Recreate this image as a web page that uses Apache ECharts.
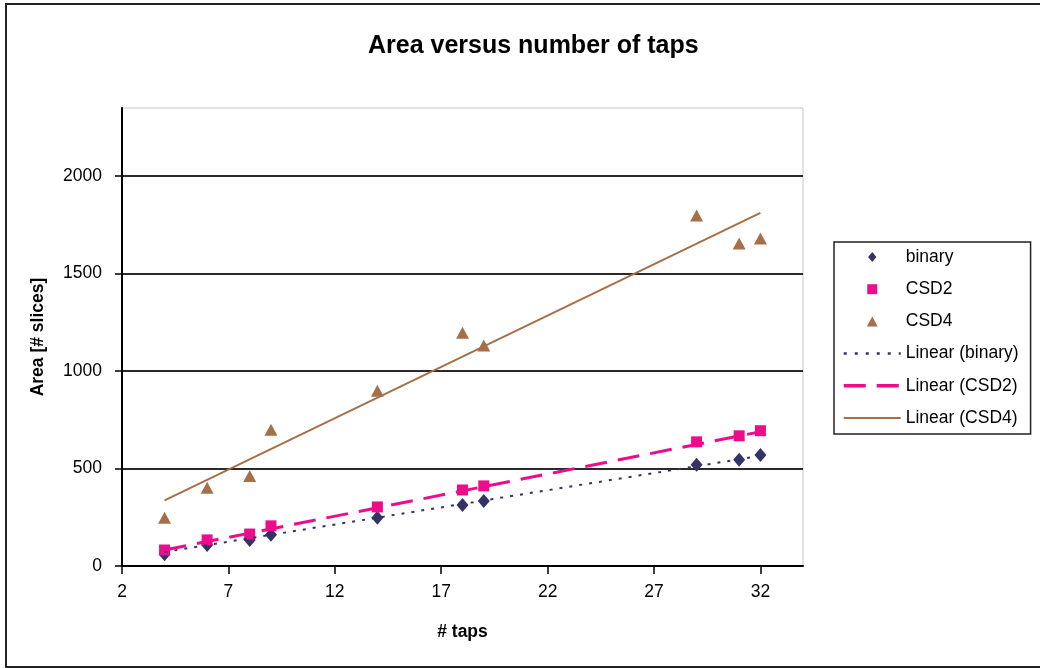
<!DOCTYPE html>
<html>
<head>
<meta charset="utf-8">
<title>Area versus number of taps</title>
<script src="https://cdn.jsdelivr.net/npm/echarts@6/dist/echarts.min.js"></script>
<style>
  html, body { margin: 0; padding: 0; background: #fff; }
  #chart { width: 1040px; height: 668px; }
</style>
</head>
<body>
<div id="chart"></div>
<script>
// Number of filter taps for each measured design
const taps = [4, 6, 8, 9, 14, 18, 19, 29, 31, 32];

// Area in slices per coefficient encoding
const binary = [60, 108, 134, 160, 247, 313, 334, 519, 545, 570];
const csd2 = [82, 134, 164, 206, 303, 390, 411, 637, 668, 694];
const csd4 = [247, 401, 462, 699, 899, 1197, 1131, 1799, 1655, 1680];

// Linear trend lines: [taps, area] at both ends
const trendBinary = [[4, 72], [32, 565]];
const trendCsd2 = [[4, 82], [32, 689]];
const trendCsd4 = [[4, 337], [32, 1812]];

// Axis tick labels
const xTicks = [2, 7, 12, 17, 22, 27, 32];
const yTicks = [0, 500, 1000, 1500, 2000];

const FONT = '"Liberation Sans", Arial, Helvetica, sans-serif';
const NAVY = '#333366';
const PINK = '#EC0C8C';
const BROWN = '#A66F48';

// Marker outlines as paths so the legend keeps their proportions
const DIAMOND = 'path://M5,0L10,6L5,12L0,6Z';
const SQUARE = 'path://M0,0L10,0L10,10L0,10Z';
const TRIANGLE = 'path://M6,0L12,11L0,11Z';

const pairs = ys => taps.map((t, i) => [t, ys[i]]);

const chart = echarts.init(document.getElementById('chart'), null, { renderer: 'canvas' });

// Line entries in the legend show only the stroke, no marker
const hiddenMarker = { opacity: 0 };

chart.setOption({
  backgroundColor: '#ffffff',
  animation: false,
  textStyle: { fontFamily: FONT },
  title: {
    text: 'Area versus number of taps',
    left: 363,
    top: 29,
    textStyle: { fontFamily: FONT, fontSize: 25, fontWeight: 'bold', color: '#000' }
  },
  graphic: [{
    type: 'rect',
    shape: { x: 6, y: 4, width: 1050, height: 663 },
    style: { fill: 'none', stroke: '#222', lineWidth: 2 },
    silent: true,
    z: -10
  }],
  grid: {
    left: 122, top: 108, right: 237, bottom: 102,
    show: true, borderColor: '#c4c4c4', borderWidth: 1, backgroundColor: '#fff'
  },
  legend: {
    orient: 'vertical',
    left: 834,
    top: 242,
    padding: [5, 12, 6, 8],
    itemWidth: 57,
    itemHeight: 10,
    itemGap: 12.2,
    symbolKeepAspect: true,
    backgroundColor: '#fff',
    borderColor: '#222',
    borderWidth: 1.5,
    textStyle: { fontFamily: FONT, fontSize: 17.5, color: '#000', lineHeight: 20 },
    data: [
      { name: 'binary', icon: DIAMOND },
      { name: 'CSD2', icon: SQUARE },
      { name: 'CSD4', icon: TRIANGLE },
      { name: 'Linear (binary)', itemStyle: hiddenMarker,
        lineStyle: { width: 2.5, type: [3, 8] } },
      { name: 'Linear (CSD2)', itemStyle: hiddenMarker,
        lineStyle: { width: 3.5, type: [22, 11] } },
      { name: 'Linear (CSD4)', itemStyle: hiddenMarker,
        lineStyle: { width: 2 } }
    ]
  },
  xAxis: {
    type: 'value',
    min: 2,
    max: 34,
    interval: 5,
    name: '# taps',
    nameLocation: 'middle',
    nameGap: 57,
    nameTextStyle: { fontFamily: FONT, fontSize: 17.5, fontWeight: 'bold', color: '#000' },
    axisLine: { show: true, lineStyle: { color: '#000', width: 2 } },
    axisTick: { show: true, length: 8, customValues: xTicks, lineStyle: { color: '#000', width: 1.5 } },
    axisLabel: { customValues: xTicks, margin: 17, fontFamily: FONT, fontSize: 17.5, color: '#000',
                 formatter: v => String(v) },
    splitLine: { show: false }
  },
  yAxis: {
    type: 'value',
    min: 0,
    max: 2350,
    interval: 500,
    name: 'Area [# slices]',
    nameLocation: 'middle',
    nameGap: 75,
    nameTextStyle: { fontFamily: FONT, fontSize: 17.5, fontWeight: 'bold', color: '#000' },
    axisLine: { show: true, lineStyle: { color: '#000', width: 2 } },
    axisTick: { show: true, length: 7, customValues: yTicks, lineStyle: { color: '#000', width: 1.5 } },
    axisLabel: { customValues: yTicks, margin: 20, fontFamily: FONT, fontSize: 17.5, color: '#000',
                 formatter: v => String(v) },
    splitLine: { show: true, lineStyle: { color: '#2a2a2a', width: 2 } }
  },
  series: [
    {
      name: 'binary', type: 'scatter', data: pairs(binary),
      symbol: 'diamond', symbolSize: [12, 14],
      itemStyle: { color: NAVY, opacity: 1 }, z: 3
    },
    {
      name: 'CSD2', type: 'scatter', data: pairs(csd2),
      symbol: 'rect', symbolSize: 11,
      itemStyle: { color: PINK, opacity: 1 }, z: 3
    },
    {
      name: 'CSD4', type: 'scatter', data: pairs(csd4),
      symbol: 'triangle', symbolSize: [13, 12],
      itemStyle: { color: BROWN, opacity: 1 }, z: 3
    },
    {
      name: 'Linear (binary)', type: 'line', data: trendBinary,
      symbol: 'none', showSymbol: false,
      lineStyle: { color: NAVY, width: 2, type: [3, 7] },
      itemStyle: { color: NAVY }, z: 4
    },
    {
      name: 'Linear (CSD2)', type: 'line', data: trendCsd2,
      symbol: 'none', showSymbol: false,
      lineStyle: { color: PINK, width: 3, type: [22, 11] },
      itemStyle: { color: PINK }, z: 4
    },
    {
      name: 'Linear (CSD4)', type: 'line', data: trendCsd4,
      symbol: 'none', showSymbol: false,
      lineStyle: { color: BROWN, width: 2 },
      itemStyle: { color: BROWN }, z: 4
    }
  ]
});
</script>
</body>
</html>
